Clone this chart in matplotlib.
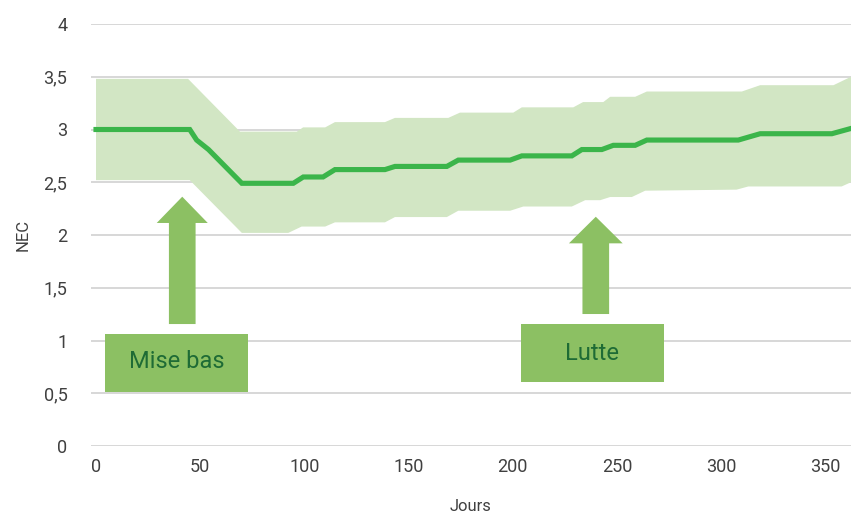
import matplotlib
matplotlib.use("Agg")
import matplotlib.pyplot as plt
from matplotlib.patches import FancyArrow, Rectangle

# ---- data ----
line_x = [0, 45, 48.3, 54, 70, 94.7, 99.5, 109, 114.7, 138.7, 143.5, 168.4, 173.9,
          198.8, 204.4, 228.4, 233.2, 242.8, 248.3, 258.8, 264.4, 308.3, 318.8, 353.2, 362.4]
line_y = [3.0, 3.0, 2.90, 2.81, 2.49, 2.49, 2.55, 2.55, 2.62, 2.62, 2.65, 2.65, 2.71,
          2.71, 2.75, 2.75, 2.81, 2.81, 2.85, 2.85, 2.90, 2.90, 2.96, 2.96, 3.01]

upper_x = [0, 44.2, 69.1, 96.4, 99.4, 110, 114.7, 138.7, 143.5, 169.1, 174.7, 200.3, 204.4,
           229.1, 233.8, 243.5, 246.8, 258.8, 264.4, 310, 318.8, 354, 362.4]
upper_y = [3.48, 3.48, 2.98, 2.98, 3.02, 3.02, 3.07, 3.07, 3.11, 3.11, 3.16, 3.16, 3.21,
           3.21, 3.26, 3.26, 3.31, 3.31, 3.36, 3.36, 3.42, 3.42, 3.50]

lower_x = [0, 45, 70, 92.3, 98.7, 110, 114.7, 138.7, 143.5, 168.4, 173.9, 198.8, 205.1,
           228.4, 234.8, 242, 246.8, 257.2, 263.6, 307.5, 313.1, 357.9, 362.4]
lower_y = [2.52, 2.52, 2.02, 2.02, 2.08, 2.08, 2.12, 2.12, 2.17, 2.17, 2.23, 2.23, 2.27,
           2.27, 2.33, 2.33, 2.36, 2.36, 2.42, 2.43, 2.46, 2.46, 2.50]

x_ticks = [0, 50, 100, 150, 200, 250, 300, 350]
y_ticks = [0, 0.5, 1, 1.5, 2, 2.5, 3, 3.5, 4]
y_tick_labels = ["0", "0,5", "1", "1,5", "2", "2,5", "3", "3,5", "4"]

annot_labels = ["Mise bas", "Lutte"]
annot_x = [41.4, 239.9]

# ---- styles ----
LINE_C = "#3bb54a"
BAND_C = "#d2e6c4"
BOX_C = "#8cc063"
TXT_GREEN = "#1e6b35"
GRID_C = "#d4d4d4"
TXT_C = "#404040"

plt.rcParams['font.family'] = ['Roboto', 'DejaVu Sans']

fig = plt.figure(figsize=(8.51, 5.13), dpi=100)
ax = fig.add_axes([91 / 851, 67 / 513, 760 / 851, 422 / 513])

ax.set_xlim(-2.4, 362.4)
ax.set_ylim(0, 4)

for v in y_ticks:
    ax.axhline(v, color=GRID_C, lw=1.3, zorder=0)

poly_x = list(upper_x) + list(lower_x[::-1])
poly_y = list(upper_y) + list(lower_y[::-1])
ax.fill(poly_x, poly_y, color=BAND_C, lw=0, zorder=1)
ax.plot(line_x, line_y, color=LINE_C, lw=3.7, zorder=3, solid_joinstyle='miter')

# annotation boxes and arrows
boxes = [
    dict(x0=4.3, x1=72.9, y0=0.515, y1=1.06, ty=0.80, tx=38.6,
         ab=1.156, at=2.363, hl=0.249, hw=24.5),
    dict(x0=204.0, x1=272.7, y0=0.607, y1=1.156, ty=0.88, tx=238.3,
         ab=1.251, at=2.173, hl=0.252, hw=25.8),
]
for lab, axx, b in zip(annot_labels, annot_x, boxes):
    ax.add_patch(Rectangle((b['x0'], b['y0']), b['x1'] - b['x0'], b['y1'] - b['y0'],
                           facecolor=BOX_C, edgecolor='none', zorder=4))
    ax.text(b['tx'], b['ty'], lab, ha='center', va='center', fontsize=17,
            color=TXT_GREEN, zorder=5)
    ax.add_patch(FancyArrow(axx, b['ab'], 0, b['at'] - b['ab'], width=12.8,
                            head_width=b['hw'], head_length=b['hl'],
                            length_includes_head=True, facecolor=BOX_C,
                            edgecolor='none', zorder=4))

ax.set_xticks(x_ticks)
ax.set_xticklabels([str(t) for t in x_ticks])
ax.set_yticks(y_ticks)
ax.set_yticklabels(y_tick_labels)
ax.tick_params(axis='both', length=0, labelsize=13, colors=TXT_C)
ax.tick_params(axis='y', pad=17)
ax.tick_params(axis='x', pad=9)
for s in ax.spines.values():
    s.set_visible(False)

ax.set_xlabel("Jours", fontsize=12, color=TXT_C, labelpad=16)
ax.set_ylabel("NEC", fontsize=12, color=TXT_C, labelpad=9)

fig.savefig("out.png", dpi=100)
